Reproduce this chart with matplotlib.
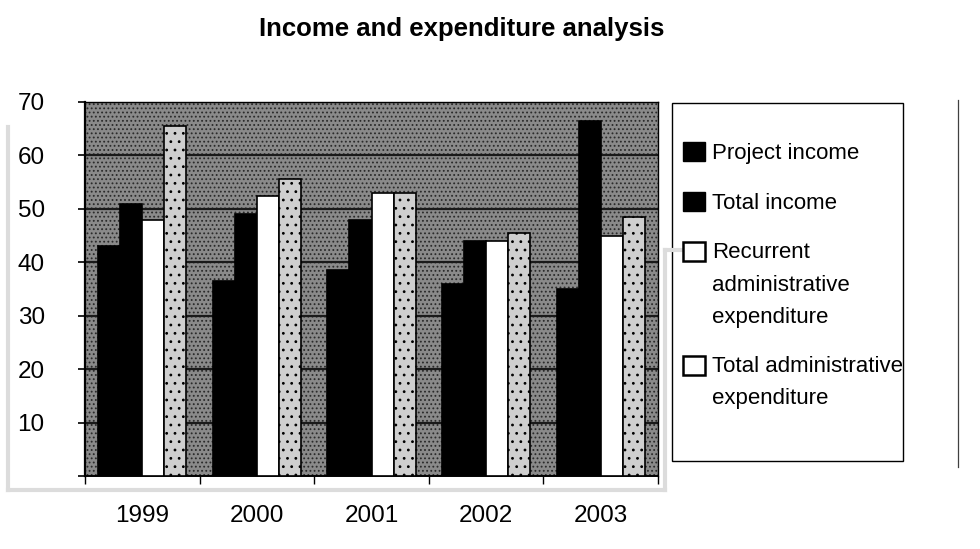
import matplotlib
matplotlib.use('Agg')
import matplotlib.pyplot as plt
import numpy as np
from matplotlib.lines import Line2D
from matplotlib.patches import Patch, Rectangle

years = ['1999', '2000', '2001', '2002', '2003']
project_income = [43, 36.5, 38.5, 36, 35]
total_income = [51, 49, 48, 44, 66.5]
recurrent_admin = [48, 52.5, 53, 44, 45]
total_admin = [65.5, 55.5, 53, 45.5, 48.5]

series_labels = ['Project income', 'Total income',
                 'Recurrent\nadministrative\nexpenditure',
                 'Total administrative\nexpenditure']
y_ticks = [10, 20, 30, 40, 50, 60, 70]

plt.rcParams['font.family'] = ['Liberation Sans', 'DejaVu Sans']
plt.rcParams['hatch.linewidth'] = 0.8


def _fig_line(fig, xs, ys, **kw):
    fig.add_artist(Line2D(np.array(xs) / 980, 1 - np.array(ys) / 549,
                          transform=fig.transFigure, **kw))


def plot_income_chart():
    fig = plt.figure(figsize=(9.8, 5.49), dpi=100)
    ax = fig.add_axes([85 / 980, 73 / 549, 573 / 980, 374 / 549])
    # stippled grey plot area
    ax.set_facecolor('#8a8a8a')
    ax.patch.set_edgecolor('#2a2a2a')
    ax.patch.set_linewidth(0)
    ax.patch.set_hatch('....')

    x = np.arange(len(years))
    w = 0.192
    series = [project_income, total_income, recurrent_admin, total_admin]
    faces = ['black', 'black', 'white', '#cfcfcf']
    hatches = [None, None, None, '..']
    for k, (vals, fc, ht) in enumerate(zip(series, faces, hatches)):
        ax.bar(x + (k - 1.5) * w, vals, w, color=fc, edgecolor='black',
               linewidth=1.2, hatch=ht, zorder=3)

    for v in y_ticks[:-1]:
        ax.axhline(v, color='#1a1a1a', linewidth=1.6, zorder=1)

    ax.set_xlim(-0.5, len(years) - 0.5)
    ax.set_ylim(0, 70)
    ax.set_yticks([0] + y_ticks)
    ax.set_yticklabels([''] + [str(v) for v in y_ticks])
    ax.set_xticks(np.arange(len(years) + 1) - 0.5)
    ax.set_xticklabels([])
    ax.set_xticks(x, minor=True)
    ax.set_xticklabels(years, minor=True)
    ax.tick_params(axis='y', direction='out', length=5, width=1.2, pad=24,
                   labelsize=17.5)
    ax.tick_params(axis='x', which='major', direction='out', length=6, width=1)
    ax.tick_params(axis='x', which='minor', length=0, pad=21, labelsize=17.5)
    for side in ['top', 'right']:
        ax.spines[side].set_linewidth(1.0)
    ax.spines['left'].set_linewidth(1.6)
    ax.spines['bottom'].set_linewidth(1.4)

    fig.text(462 / 980, 1 - 29 / 549, 'Income and expenditure analysis',
             ha='center', va='center', fontsize=18.5, fontweight='bold')

    # legend box
    fig.add_artist(Rectangle((672 / 980, 88 / 549), 231 / 980, 358 / 549,
                             transform=fig.transFigure, fill=False,
                             edgecolor='black', linewidth=1.0))
    handles = [Patch(facecolor='black', edgecolor='black'),
               Patch(facecolor='black', edgecolor='black'),
               Patch(facecolor='white', edgecolor='black', linewidth=1.8),
               Patch(facecolor='white', edgecolor='black', linewidth=1.8)]
    leg = fig.legend(handles, series_labels, loc='upper left',
                     bbox_to_anchor=(672 / 980, 1 - 131 / 549), frameon=False,
                     fontsize=16, handlelength=1.0, handleheight=0.95,
                     handletextpad=0.3, labelspacing=1.25, borderpad=0)
    for t in leg.get_texts():
        t.set_linespacing(1.72)
    # put the marker of a wrapped label next to its first line
    fig.canvas.draw()
    for h, t in zip(leg.legend_handles, leg.get_texts()):
        n = t.get_text().count('\n')
        if n:
            h.set_y(h.get_y() + n * 0.5 * 23.5 + 1)

    # outer frame and scan marks
    _fig_line(fig, [958, 958], [100, 467], color='#404040', linewidth=0.9)
    _fig_line(fig, [8, 8], [127, 490], color='#dcdcdc', linewidth=3)
    _fig_line(fig, [8, 665], [490, 490], color='#dcdcdc', linewidth=3)
    _fig_line(fig, [665, 665], [250, 490], color='#dcdcdc', linewidth=3)
    _fig_line(fig, [665, 683], [250, 250], color='#dcdcdc', linewidth=3)

    fig.savefig('out.png', dpi=100)
    return fig


if __name__ == '__main__':
    plot_income_chart()
